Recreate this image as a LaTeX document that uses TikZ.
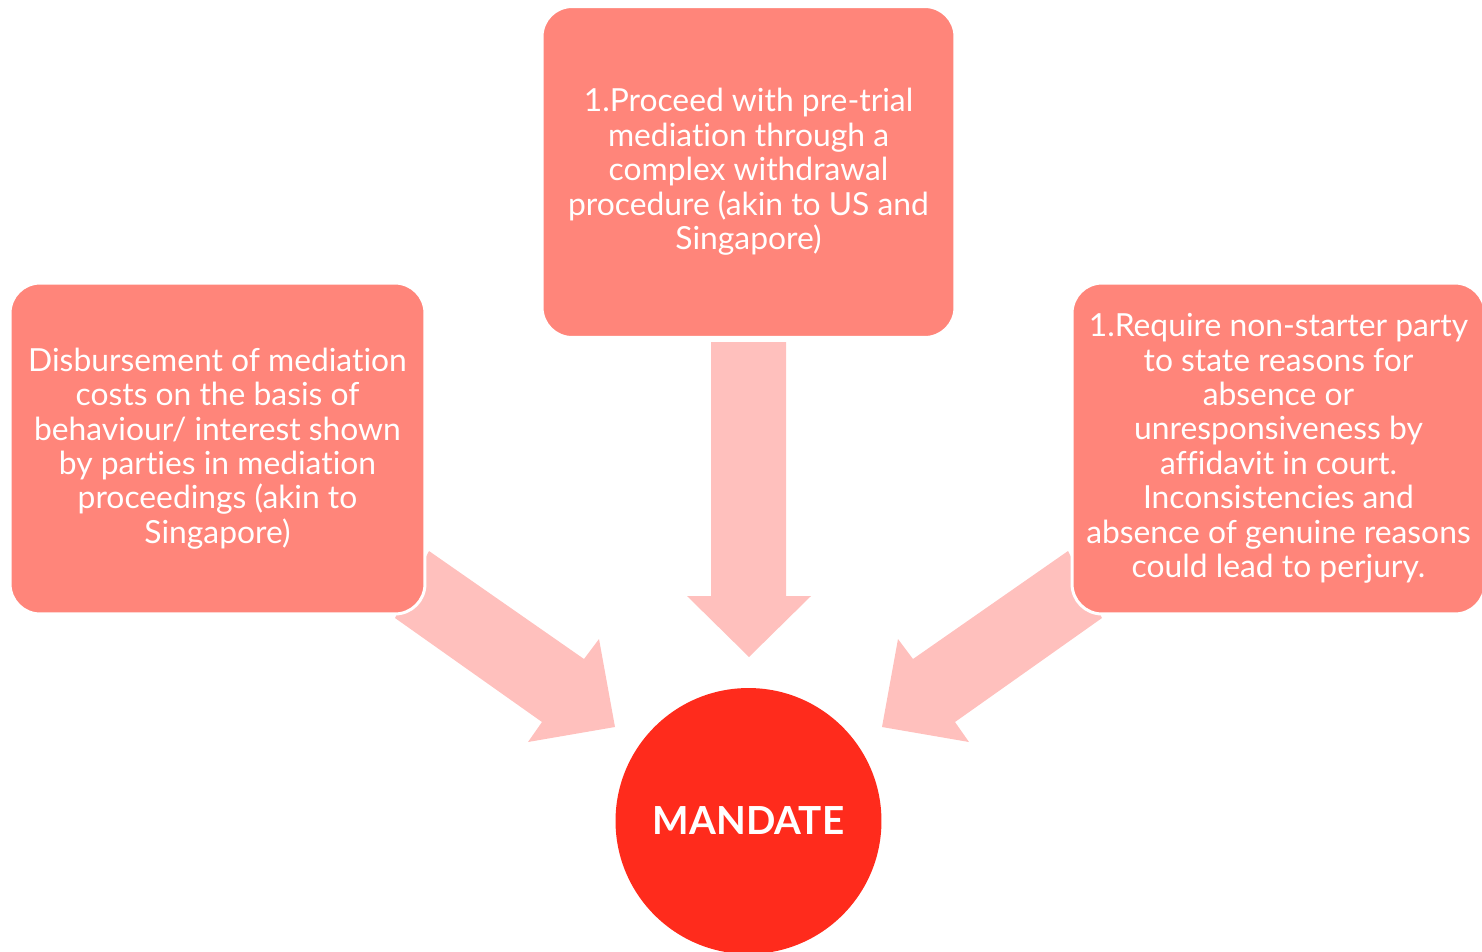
\documentclass[tikz,border=0pt]{standalone}
\usepackage{fontspec}
\setmainfont{Lato}[Ligatures=NoCommon]
\definecolor{boxfill}{HTML}{FF857A}
\definecolor{arrowfill}{HTML}{FFC0BD}
\definecolor{circfill}{HTML}{FF2B1C}
\begin{document}
\begin{tikzpicture}[x=0.02cm,y=-0.02cm,
  infobox/.style={draw=white,line width=1.7pt,fill=boxfill,rounded corners=0.6cm,
    minimum height=6.62cm,align=center,text=white,inner sep=0pt,
    font=\fontsize{18.1}{19.6}\selectfont},
  bigarrow/.style={fill=arrowfill,draw=none},
  hub/.style={circle,fill=circfill,draw=none,minimum size=5.32cm,inner sep=0pt,
    text=white,font=\fontsize{22}{26}\selectfont\bfseries}]
\useasboundingbox (0,0) rectangle (1482,951);
% block arrows
\fill[bigarrow] (711,342) -- (786,342) -- (786,596) -- (811,596) -- (749,657) -- (687,596) -- (711,596) -- cycle;
\fill[bigarrow] (429,551) -- (584,659) -- (599,639) -- (615,727) -- (528,742) -- (542,722) -- (395,618) -- cycle;
\begin{scope}[xshift=1497*0.02cm,xscale=-1]
\fill[bigarrow] (429,551) -- (584,659) -- (599,639) -- (615,727) -- (528,742) -- (542,722) -- (395,618) -- cycle;
\end{scope}
% boxes
\node[infobox,minimum width=8.3cm] (left) at (217.5,448.5)
  {Disbursement of mediation\\costs on the basis of\\behaviour/ interest shown\\by parties in mediation\\proceedings (akin to\\Singapore)};
\node[infobox,minimum width=8.26cm] (top) at (748.5,172)
  {1.Proceed with pre-trial\\mediation through a\\complex withdrawal\\procedure (akin to US and\\Singapore)};
\node[infobox,minimum width=8.26cm] (right) at (1278.5,448.5)
  {1.Require non-starter party\\to state reasons for\\absence or\\unresponsiveness by\\affidavit in court.\\Inconsistencies and\\absence of genuine reasons\\could lead to perjury.};
\node[hub] (mandate) at (748.5,821) {MANDATE};
\end{tikzpicture}
\end{document}
